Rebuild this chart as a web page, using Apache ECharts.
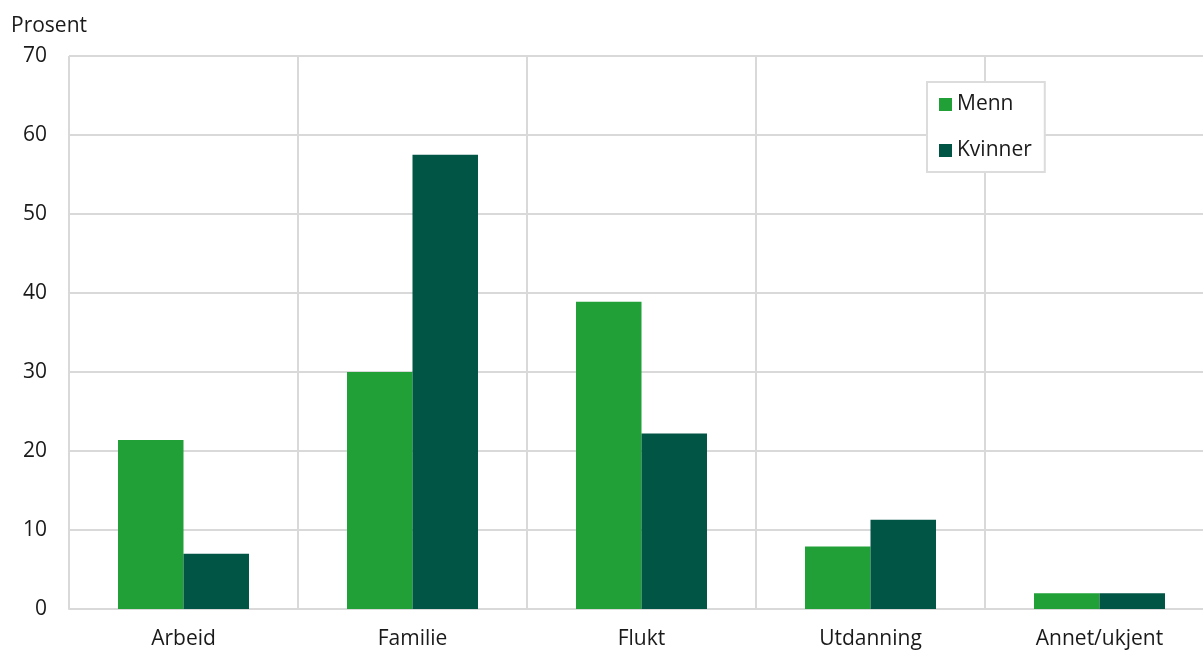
<!DOCTYPE html>
<html><head><meta charset="utf-8">
<script src="https://cdn.jsdelivr.net/npm/echarts@6/dist/echarts.min.js"></script>
<style>html,body{margin:0;padding:0;background:#fff}#c{width:1203px;height:650px}</style>
</head><body><div id="c"></div>
<script>
const categories = ['Arbeid', 'Familie', 'Flukt', 'Utdanning', 'Annet/ukjent'];
const menn = [21.4, 30.0, 38.9, 7.9, 2.0];
const kvinner = [7.0, 57.5, 22.2, 11.3, 2.0];
const yTicks = [0, 10, 20, 30, 40, 50, 60, 70];

const font = '"Open Sans", "Noto Sans", sans-serif';
const fs = 21;
const chart = echarts.init(document.getElementById('c'), null, {renderer: 'canvas'});
chart.setOption({
  animation: false,
  textStyle: {fontFamily: font},
  title: {text: 'Prosent', left: 6, top: 11, textStyle: {fontFamily: font, fontSize: fs, fontWeight: 'normal', color: '#1a1a1a'}},
  legend: {
    orient: 'vertical', left: 927, top: 82,
    padding: [12, 13, 11, 12],
    icon: 'rect',
    itemWidth: 13, itemHeight: 13, itemGap: 25,
    borderColor: '#dcdcdc', borderWidth: 2, backgroundColor: '#fff',
    textStyle: {fontFamily: font, fontSize: fs, color: '#1a1a1a'},
    data: ['Menn', 'Kvinner']
  },
  grid: {left: 69, width: 1145, top: 56, bottom: 41, containLabel: false, outerBoundsMode: 'none'},
  xAxis: {
    type: 'category', data: categories,
    axisLine: {show: true, lineStyle: {color: '#d9d9d9', width: 2}},
    axisTick: {show: false},
    splitLine: {show: true, lineStyle: {color: '#d9d9d9', width: 2}},
    axisLabel: {fontFamily: font, fontSize: fs, color: '#1a1a1a', margin: 20}
  },
  yAxis: {
    type: 'value', min: yTicks[0], max: yTicks[yTicks.length - 1], interval: 10,
    axisLine: {show: false}, axisTick: {show: false},
    splitLine: {show: true, lineStyle: {color: '#d9d9d9', width: 2}},
    axisLabel: {fontFamily: font, fontSize: fs, color: '#1a1a1a', margin: 22}
  },
  series: [
    {name: 'Menn', type: 'bar', data: menn, itemStyle: {color: '#21a038'}, barGap: '0%', barCategoryGap: '42.8%'},
    {name: 'Kvinner', type: 'bar', data: kvinner, itemStyle: {color: '#005545'}, barGap: '0%', barCategoryGap: '42.8%'}
  ]
});
</script></body></html>
